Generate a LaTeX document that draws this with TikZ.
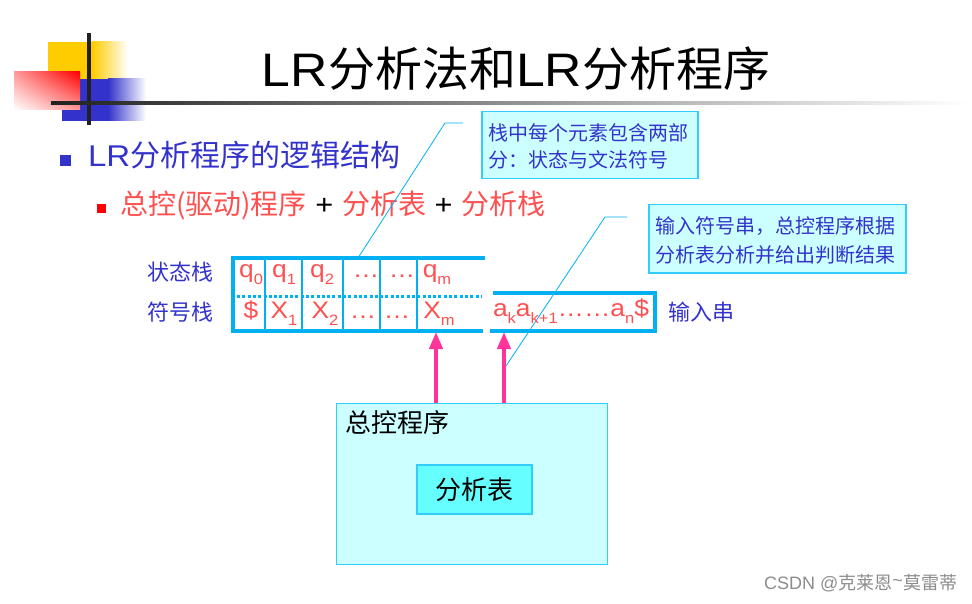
\documentclass[tikz,border=0pt]{standalone}
\usepackage{fontspec}
\setmainfont{Liberation Sans}
\newfontfamily\cjk{Noto Sans CJK SC}
\newfontfamily\stk[FakeStretch=1.1]{Liberation Sans}
\usetikzlibrary{arrows.meta,shadings}
\definecolor{ttblue}{HTML}{3333CC}
\definecolor{ttred}{HTML}{FF5050}
\definecolor{stkcyan}{HTML}{00B0F0}
\definecolor{boxfill}{HTML}{CCFFFF}
\definecolor{boxline}{HTML}{33CCFF}
\definecolor{innerfill}{HTML}{66FFFF}
\definecolor{arrmag}{HTML}{FF3399}
\definecolor{decoyel}{HTML}{FFCC00}
\definecolor{decoblue}{HTML}{3333CC}
\newcommand\lowsub[1]{\raisebox{-0.3em}{\fontsize{15}{15}\selectfont #1}}
\tikzset{
  txt/.style={inner sep=0pt, outer sep=0pt},
  stacktxt/.style={txt, anchor=base, text=ttred, font=\stk\fontsize{24}{24}\selectfont},
  calloutbox/.style={draw=boxline, line width=1.5pt, fill=boxfill, inner sep=0pt, anchor=north west},
  callouttxt/.style={txt, anchor=west, text=ttblue, font=\cjk\fontsize{20}{20}\selectfont},
  stackline/.style={draw=stkcyan, line width=4pt},
  sepline/.style={draw=stkcyan, line width=2pt},
  pointer/.style={draw=stkcyan, line width=0.8pt},
  magarrow/.style={draw=arrmag, line width=4pt, -{Triangle[width=13pt,length=17pt]}},
  labtxt/.style={txt, anchor=west, text=ttblue, font=\cjk\fontsize{22}{22}\selectfont},
}
\begin{document}
\begin{tikzpicture}[x=1pt,y=-1pt]
\useasboundingbox (0,0) rectangle (972,604);
% decoration
\fill[decoyel] (48,42) rectangle (92,79);
\shade[left color=decoyel, right color=white] (92,42) rectangle (128,79);
\fill[decoblue] (62,79) rectangle (108,121);
\shade[left color=decoblue, right color=white] (108,79) rectangle (146,121);
\shade[upper right=red, lower left=white, upper left=red!40!white, lower right=red!40!white] (14,72) rectangle (80,110);
\fill[black!87] (87,33) rectangle (91,125);
\shade[left color=black!87, right color=white] (51,101.5) rectangle (968,104.5);
% title
\node[txt, anchor=base] (title) at (516,87) {\fontsize{47}{47}\selectfont{\stk LR}{\cjk 分析法和}{\stk LR}{\cjk 分析程序}};
% bullets
\node[fill=decoblue, minimum size=11pt, inner sep=0pt] (b1) at (65.5,160.5) {};
\node[txt, anchor=base west, text=ttblue] (l1) at (88,167) {\fontsize{30}{30}\selectfont{\stk LR}{\cjk 分析程序的逻辑结构}};
\node[fill=red, minimum size=9pt, inner sep=0pt] (b2) at (101.5,208.5) {};
\node[txt, anchor=base west] (l2) at (120,215) {\fontsize{28}{28}\selectfont{\cjk\color{ttred}总控(驱动)程序}{\stk\color{black}\ +\ }{\cjk\color{ttred}分析表}{\stk\color{black}\ +\ }{\cjk\color{ttred}分析栈}};
% callouts
\node[calloutbox, minimum width=216pt, minimum height=67pt] (c1) at (481,111) {};
\node[callouttxt] (c1a) at (488,133) {栈中每个元素包含两部};
\node[callouttxt] (c1b) at (488,160) {分：状态与文法符号};
\node[calloutbox, minimum width=257pt, minimum height=68pt] (c2) at (648,204) {};
\node[callouttxt] (c2a) at (655,226) {输入符号串，总控程序根据};
\node[callouttxt] (c2b) at (655,255) {分析表分析并给出判断结果};
\coordinate (p1a) at (463,123);
\coordinate (p1b) at (445,123);
\coordinate (p1c) at (358,258);
\coordinate (p2a) at (627,217);
\coordinate (p2b) at (605,217);
\coordinate (p2c) at (506,366);
\draw[pointer] (p1a) -- (p1b) -- (p1c);
\draw[pointer] (p2a) -- (p2b) -- (p2c);
% stack
\draw[sepline] (265,258) -- (265,331);
\draw[sepline] (302,258) -- (302,331);
\draw[sepline] (343,258) -- (343,331);
\draw[sepline] (380,258) -- (380,331);
\draw[sepline] (417,258) -- (417,331);
\draw[draw=stkcyan, line width=3pt, dash pattern=on 3pt off 2.3pt] (237,296) -- (482,296);
\draw[stackline] (485,258) -- (233,258) -- (233,331) -- (483,331);
\draw[stackline] (493,293) -- (655,293) -- (655,331) -- (490,331);
\node[stacktxt] (s1) at (251,277) {q\lowsub{0}};
\node[stacktxt] (s2) at (284,277) {q\lowsub{1}};
\node[stacktxt] (s3) at (322,277) {q\lowsub{2}};
\node[stacktxt] (s4) at (366,277) {…};
\node[stacktxt] (s5) at (402,277) {…};
\node[stacktxt] (s6) at (437,277) {q\lowsub{m}};
\node[stacktxt] (x1) at (251,318) {\$};
\node[stacktxt] (x2) at (284,318) {X\lowsub{1}};
\node[stacktxt] (x3) at (325,318) {X\lowsub{2}};
\node[stacktxt] (x4) at (363,318) {…};
\node[stacktxt] (x5) at (397,318) {…};
\node[stacktxt] (x6) at (439,318) {X\lowsub{m}};
\node[stacktxt, anchor=base west] (inp) at (493,316) {a\lowsub{k}a\lowsub{k+1}……a\lowsub{n}\$};
\node[labtxt] (lab1) at (147,272) {状态栈};
\node[labtxt] (lab2) at (147,312) {符号栈};
\node[labtxt] (lab3) at (668,312) {输入串};
% main box
\node[draw=boxline, line width=1pt, fill=boxfill, minimum width=271pt, minimum height=161pt, inner sep=0pt, anchor=north west] (main) at (336,403) {};
\node[txt, anchor=west, font=\cjk\fontsize{26}{26}\selectfont] (mainlab) at (345,423) {总控程序};
\node[draw=boxline, line width=1.5pt, fill=innerfill, minimum width=115pt, minimum height=49pt, inner sep=0pt, font=\cjk\fontsize{26}{26}\selectfont] (tab) at (474.5,489.5) {分析表};
\coordinate (a1e) at (436,332);
\coordinate (a2e) at (504,332);
\draw[magarrow] (main.north west -| a1e) -- (a1e);
\draw[magarrow] (main.north west -| a2e) -- (a2e);
% watermark
\node[txt, anchor=east, text=black!45, font=\fontsize{18}{18}\selectfont] (wm) at (957,583) {CSDN @{\cjk 克莱恩}\raisebox{0.15em}{\textasciitilde}{\cjk 莫雷蒂}};
\end{tikzpicture}
\end{document}
